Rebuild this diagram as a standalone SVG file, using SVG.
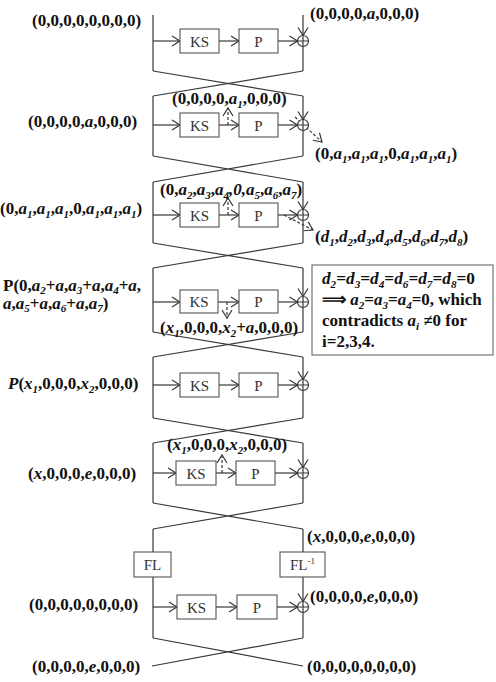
<svg xmlns="http://www.w3.org/2000/svg" width="496" height="682" viewBox="0 0 496 682">
<style>
.ln{fill:none;stroke:#383838;stroke-width:1.2}
.ar{marker-end:url(#ah)}
.da{stroke-dasharray:3,2}
.bx{fill:#fff;stroke:#555;stroke-width:1.1}
.bt{font-family:"Liberation Serif","Times New Roman",serif;font-size:15px;fill:#333;text-anchor:middle}
.lb{font-family:"Liberation Serif","Times New Roman",serif;font-size:17px;font-weight:bold;fill:#111}
.i{font-style:italic}
.s{font-size:11px;font-style:italic}
.xo{fill:#fff;stroke:#383838;stroke-width:1.2}
</style>
<defs>
<marker id="ah" markerUnits="userSpaceOnUse" markerWidth="10" markerHeight="12" refX="8" refY="5" orient="auto" overflow="visible">
<path d="M0,0 L8,5 L0,10" fill="none" stroke="#383838" stroke-width="1.2"/>
</marker>
<g id="xor"><circle r="5.5" class="xo"/><path d="M-5.5,0H5.5M0,-5.5V5.5" class="ln"/></g>
</defs>

<g id="connectors">
<!-- Round 1 -->
<path class="ln" d="M153,15V71"/>
<path class="ln ar" d="M153,41H180"/>
<path class="ln ar" d="M219,41H239"/>
<path class="ln ar" d="M278,41H297.5"/>
<path class="ln ar" d="M303,15V35.5"/>
<path class="ln" d="M303,46.5V71"/>
<path class="ln" d="M153,71L303,96M303,71L153,96"/>
<!-- Round 2 -->
<path class="ln" d="M153,96V156"/>
<path class="ln ar" d="M153,125H180"/>
<path class="ln ar" d="M219,125H239"/>
<path class="ln ar" d="M278,125H297.5"/>
<path class="ln ar" d="M303,96V119.5"/>
<path class="ln" d="M303,130.5V156"/>
<path class="ln ar da" d="M228,125V108"/>
<path class="ln ar da" d="M295,117L322,142"/>
<path class="ln" d="M153,156L303,182M303,156L153,182"/>
<!-- Round 3 -->
<path class="ln" d="M153,182V243"/>
<path class="ln ar" d="M153,215H180"/>
<path class="ln ar" d="M219,215H239"/>
<path class="ln ar" d="M278,215H297.5"/>
<path class="ln ar" d="M303,182V209.5"/>
<path class="ln" d="M303,220.5V243"/>
<path class="ln ar da" d="M228,215V198"/>
<path class="ln ar da" d="M284,215L313,230"/>
<path class="ln" d="M153,243L303,268M303,243L153,268"/>
<!-- Round 4 -->
<path class="ln" d="M153,268V332"/>
<path class="ln ar" d="M153,302H180"/>
<path class="ln ar" d="M218,302H239"/>
<path class="ln ar" d="M278,302H297.5"/>
<path class="ln ar" d="M303,268V296.5"/>
<path class="ln" d="M303,307.5V332"/>
<path class="ln ar da" d="M227,302V318"/>
<path class="ln" d="M153,332L303,357M303,332L153,357"/>
<!-- Round 5 -->
<path class="ln" d="M153,357V418"/>
<path class="ln ar" d="M153,385H180"/>
<path class="ln ar" d="M219,385H239"/>
<path class="ln ar" d="M278,385H297.5"/>
<path class="ln ar" d="M303,357V379.5"/>
<path class="ln" d="M303,390.5V418"/>
<path class="ln" d="M153,418L303,443M303,418L153,443"/>
<!-- Round 6 -->
<path class="ln" d="M153,443V503"/>
<path class="ln ar" d="M153,473H176"/>
<path class="ln ar" d="M216,473H236"/>
<path class="ln ar" d="M275,473H297.5"/>
<path class="ln ar" d="M303,443V467.5"/>
<path class="ln" d="M303,478.5V503"/>
<path class="ln ar da" d="M222,473V455"/>
<path class="ln" d="M153,503L303,529M303,503L153,529"/>
<!-- FL layer + Round 7 -->
<path class="ln" d="M153,529V552M153,577V638"/>
<path class="ln" d="M303,529V552"/>
<path class="ln ar" d="M303,577V601.5"/>
<path class="ln ar" d="M153,607H177"/>
<path class="ln ar" d="M216,607H237"/>
<path class="ln ar" d="M277,607H297.5"/>
<path class="ln" d="M303,612.5V638"/>
<path class="ln" d="M153,638L303,666M303,638L152,666"/>
</g>

<g id="r1"><rect class="bx" x="180" y="29" width="39" height="24"/><text class="bt" x="199.5" y="46.5">KS</text><rect class="bx" x="239" y="29" width="39" height="24"/><text class="bt" x="258.5" y="46.5">P</text><use href="#xor" x="303" y="41"/></g>
<g id="r2"><rect class="bx" x="180" y="113" width="39" height="24"/><text class="bt" x="199.5" y="130.5">KS</text><rect class="bx" x="239" y="113" width="39" height="24"/><text class="bt" x="258.5" y="130.5">P</text><use href="#xor" x="303" y="125"/></g>
<g id="r3"><rect class="bx" x="180" y="203" width="39" height="24"/><text class="bt" x="199.5" y="220.5">KS</text><rect class="bx" x="239" y="203" width="39" height="24"/><text class="bt" x="258.5" y="220.5">P</text><use href="#xor" x="303" y="215"/></g>
<g id="r4"><rect class="bx" x="180" y="290" width="38" height="23"/><text class="bt" x="199" y="307">KS</text><rect class="bx" x="239" y="290" width="39" height="23"/><text class="bt" x="258.5" y="307">P</text><use href="#xor" x="303" y="302"/></g>
<g id="r5"><rect class="bx" x="180" y="373" width="39" height="24"/><text class="bt" x="199.5" y="390.5">KS</text><rect class="bx" x="239" y="373" width="39" height="24"/><text class="bt" x="258.5" y="390.5">P</text><use href="#xor" x="303" y="385"/></g>
<g id="r6"><rect class="bx" x="176" y="461" width="40" height="24"/><text class="bt" x="196" y="478.5">KS</text><rect class="bx" x="236" y="461" width="39" height="24"/><text class="bt" x="255.5" y="478.5">P</text><use href="#xor" x="303" y="473"/></g>
<g id="fl"><rect class="bx" x="134" y="552" width="37" height="25"/><text class="bt" x="152.5" y="570">FL</text></g>
<g id="flinv"><rect class="bx" x="280" y="552" width="45" height="25"/><text class="bt" x="302.5" y="570">FL<tspan font-size="9" dy="-6">-1</tspan></text></g>
<g id="r7"><rect class="bx" x="177" y="595" width="39" height="24"/><text class="bt" x="196.5" y="612.5">KS</text><rect class="bx" x="237" y="595" width="40" height="24"/><text class="bt" x="257" y="612.5">P</text><use href="#xor" x="303" y="607"/></g>

<g id="labels">
<text class="lb" x="32" y="26">(0,0,0,0,0,0,0,0)</text>
<text class="lb" x="310" y="19">(0,0,0,0,<tspan class="i">a</tspan>,0,0,0)</text>
<text class="lb" x="28" y="127">(0,0,0,0,<tspan class="i">a</tspan>,0,0,0)</text>
<text class="lb" x="172" y="104">(0,0,0,0,<tspan class="i">a</tspan><tspan class="s" dy="4">1</tspan><tspan dy="-4">,0,0,0)</tspan></text>
<text class="lb" x="315" y="159">(0,<tspan class="i">a</tspan><tspan class="s" dy="4">1</tspan><tspan dy="-4">,</tspan><tspan class="i">a</tspan><tspan class="s" dy="4">1</tspan><tspan dy="-4">,</tspan><tspan class="i">a</tspan><tspan class="s" dy="4">1</tspan><tspan dy="-4">,0,</tspan><tspan class="i">a</tspan><tspan class="s" dy="4">1</tspan><tspan dy="-4">,</tspan><tspan class="i">a</tspan><tspan class="s" dy="4">1</tspan><tspan dy="-4">,</tspan><tspan class="i">a</tspan><tspan class="s" dy="4">1</tspan><tspan dy="-4">)</tspan></text>
<text class="lb" x="0" y="214">(0,<tspan class="i">a</tspan><tspan class="s" dy="4">1</tspan><tspan dy="-4">,</tspan><tspan class="i">a</tspan><tspan class="s" dy="4">1</tspan><tspan dy="-4">,</tspan><tspan class="i">a</tspan><tspan class="s" dy="4">1</tspan><tspan dy="-4">,0,</tspan><tspan class="i">a</tspan><tspan class="s" dy="4">1</tspan><tspan dy="-4">,</tspan><tspan class="i">a</tspan><tspan class="s" dy="4">1</tspan><tspan dy="-4">,</tspan><tspan class="i">a</tspan><tspan class="s" dy="4">1</tspan><tspan dy="-4">)</tspan></text>
<text class="lb" x="160" y="195">(0,<tspan class="i">a</tspan><tspan class="s" dy="4">2</tspan><tspan dy="-4">,</tspan><tspan class="i">a</tspan><tspan class="s" dy="4">3</tspan><tspan dy="-4">,</tspan><tspan class="i">a</tspan><tspan class="s" dy="4">4</tspan><tspan dy="-4" class="i">,0,</tspan><tspan class="i">a</tspan><tspan class="s" dy="4">5</tspan><tspan dy="-4">,</tspan><tspan class="i">a</tspan><tspan class="s" dy="4">6</tspan><tspan dy="-4">,</tspan><tspan class="i">a</tspan><tspan class="s" dy="4">7</tspan><tspan dy="-4">)</tspan></text>
<text class="lb" x="315" y="242">(<tspan class="i">d</tspan><tspan class="s" dy="4">1</tspan><tspan dy="-4">,</tspan><tspan class="i">d</tspan><tspan class="s" dy="4">2</tspan><tspan dy="-4">,</tspan><tspan class="i">d</tspan><tspan class="s" dy="4">3</tspan><tspan dy="-4">,</tspan><tspan class="i">d</tspan><tspan class="s" dy="4">4</tspan><tspan dy="-4">,</tspan><tspan class="i">d</tspan><tspan class="s" dy="4">5</tspan><tspan dy="-4">,</tspan><tspan class="i">d</tspan><tspan class="s" dy="4">6</tspan><tspan dy="-4">,</tspan><tspan class="i">d</tspan><tspan class="s" dy="4">7</tspan><tspan dy="-4">,</tspan><tspan class="i">d</tspan><tspan class="s" dy="4">8</tspan><tspan dy="-4">)</tspan></text>
<text class="lb" x="3" y="291">P(0,<tspan class="i">a</tspan><tspan class="s" dy="3">2</tspan><tspan dy="-3">+</tspan><tspan class="i">a</tspan>,<tspan class="i">a</tspan><tspan class="s" dy="3">3</tspan><tspan dy="-3">+</tspan><tspan class="i">a</tspan>,<tspan class="i">a</tspan><tspan class="s" dy="3">4</tspan><tspan dy="-3">+</tspan><tspan class="i">a</tspan>,</text>
<text class="lb" x="3" y="309"><tspan class="i">a</tspan>,<tspan class="i">a</tspan><tspan class="s" dy="3">5</tspan><tspan dy="-3">+</tspan><tspan class="i">a</tspan>,<tspan class="i">a</tspan><tspan class="s" dy="3">6</tspan><tspan dy="-3">+</tspan><tspan class="i">a</tspan>,<tspan class="i">a</tspan><tspan class="s" dy="3">7</tspan><tspan dy="-3">)</tspan></text>
<text class="lb" x="160" y="333">(<tspan class="i">x</tspan><tspan class="s" dy="4">1</tspan><tspan dy="-4">,0,0,0,</tspan><tspan class="i">x</tspan><tspan class="s" dy="4">2</tspan><tspan dy="-4">+</tspan><tspan class="i">a</tspan>,0,0,0)</text>
<text class="lb" x="8" y="389"><tspan class="i">P</tspan>(<tspan class="i">x</tspan><tspan class="s" dy="4">1</tspan><tspan dy="-4">,0,0,0,</tspan><tspan class="i">x</tspan><tspan class="s" dy="4">2</tspan><tspan dy="-4">,0,0,0)</tspan></text>
<text class="lb" x="167" y="450">(<tspan class="i">x</tspan><tspan class="s" dy="4">1</tspan><tspan dy="-4">,0,0,0,</tspan><tspan class="i">x</tspan><tspan class="s" dy="4">2</tspan><tspan dy="-4">,0,0,0)</tspan></text>
<text class="lb" x="28" y="479">(<tspan class="i">x</tspan>,0,0,0,<tspan class="i">e</tspan>,0,0,0)</text>
<text class="lb" x="307" y="542">(<tspan class="i">x</tspan>,0,0,0,<tspan class="i">e</tspan>,0,0,0)</text>
<text class="lb" x="310" y="602">(0,0,0,0,<tspan class="i">e</tspan>,0,0,0)</text>
<text class="lb" x="29" y="610">(0,0,0,0,0,0,0,0)</text>
<text class="lb" x="32" y="672">(0,0,0,0,<tspan class="i">e</tspan>,0,0,0)</text>
<text class="lb" x="307" y="672">(0,0,0,0,0,0,0,0)</text>
</g>

<g id="note">
<rect x="312" y="265" width="181" height="90" fill="#fff" stroke="#666" stroke-width="1.1"/>
<text class="lb" x="322" y="284" textLength="153" lengthAdjust="spacingAndGlyphs"><tspan class="i">d</tspan><tspan class="s" dy="4">2</tspan><tspan dy="-4">=</tspan><tspan class="i">d</tspan><tspan class="s" dy="4">3</tspan><tspan dy="-4">=</tspan><tspan class="i">d</tspan><tspan class="s" dy="4">4</tspan><tspan dy="-4">=</tspan><tspan class="i">d</tspan><tspan class="s" dy="4">6</tspan><tspan dy="-4">=</tspan><tspan class="i">d</tspan><tspan class="s" dy="4">7</tspan><tspan dy="-4">=</tspan><tspan class="i">d</tspan><tspan class="s" dy="4">8</tspan><tspan dy="-4">=0</tspan></text>
<text class="lb" x="322" y="305">⟹ <tspan class="i">a</tspan><tspan class="s" dy="4">2</tspan><tspan dy="-4">=</tspan><tspan class="i">a</tspan><tspan class="s" dy="4">3</tspan><tspan dy="-4">=</tspan><tspan class="i">a</tspan><tspan class="s" dy="4">4</tspan><tspan dy="-4">=0, which</tspan></text>
<text class="lb" x="322" y="326">contradicts <tspan class="i">a</tspan><tspan class="s" dy="4">i</tspan><tspan dy="-4"> ≠0 for</tspan></text>
<text class="lb" x="322" y="347">i=2,3,4.</text>
</g>
</svg>
